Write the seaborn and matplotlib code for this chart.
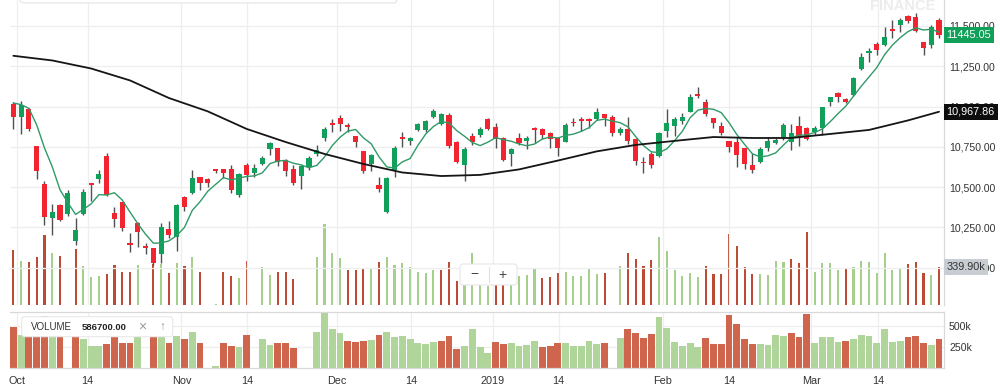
import numpy as np
import pandas as pd
import matplotlib
matplotlib.use("Agg")
import matplotlib.pyplot as plt
import seaborn as sns
from matplotlib.patches import FancyBboxPatch
from matplotlib.transforms import IdentityTransform, blended_transform_factory

# ---------------- data ----------------
open_ = [11016, 10934, 10987, 10756, 10518, 10309, 10391, 10334, 10168, 10332,
         10524, 10549, 10694, 10340, 10406, 10152, 10276, 10137, 10121, 10084,
         10242, 10193, 10441, 10462, 10561, 10551, 10615, 10615, 10611, 10450,
         10636, 10586, 10646, 10737, 10741, 10669, 10615, 10570, 10625, 10706,
         10807, 10896, 10931, 10886, 10819, 10725, 10644, 10512, 10348, 10607,
         10809, 10788, 10855, 10855, 10934, 10892, 10948, 10782, 10640, 10819,
         10824, 10921, 10872, 10803, 10706, 10803, 10787, 10865, 10859, 10834,
         10803, 10782, 10902, 10921, 10920, 10923, 10952, 10938, 10838, 10863,
         10797, 10658, 10706, 10694, 10850, 10880, 10913, 10968, 11078, 11027,
         10931, 10880, 10788, 10782, 10741, 10638, 10656, 10741, 10776, 10813,
         10782, 10880, 10865, 10841, 10865, 11030, 11082, 11045, 11072, 11233,
         11331, 11388, 11382, 11481, 11506, 11562, 11558, 11403, 11382, 11537]
high = [11030, 11035, 10991, 10756, 10540, 10394, 10396, 10483, 10307, 10489,
        10528, 10607, 10710, 10379, 10406, 10218, 10282, 10154, 10121, 10280,
        10290, 10396, 10445, 10607, 10561, 10557, 10615, 10615, 10638, 10586,
        10648, 10644, 10695, 10778, 10741, 10673, 10636, 10636, 10695, 10762,
        10872, 10921, 10948, 10896, 10819, 10725, 10704, 10561, 10565, 10756,
        10840, 10809, 10900, 10917, 10985, 10962, 10962, 10787, 10751, 10838,
        10872, 10927, 10900, 10813, 10741, 10834, 10818, 10872, 10865, 10844,
        10813, 10900, 10927, 10934, 10927, 10989, 10952, 10948, 10872, 10937,
        10803, 10689, 10720, 10844, 10985, 10934, 10958, 11076, 11120, 11045,
        10931, 10906, 10788, 10813, 10741, 10714, 10751, 10809, 10803, 10896,
        10892, 10942, 10872, 10880, 11000, 11061, 11092, 11055, 11186, 11331,
        11362, 11403, 11496, 11537, 11548, 11568, 11579, 11403, 11506, 11548]
low = [10859, 10828, 10850, 10553, 10267, 10201, 10292, 10321, 10141, 10328,
       10412, 10528, 10445, 10253, 10226, 10098, 10127, 10086, 10017, 10028,
       10185, 10106, 10354, 10458, 10483, 10500, 10590, 10555, 10466, 10441,
       10540, 10565, 10638, 10698, 10631, 10569, 10516, 10491, 10607, 10694,
       10787, 10841, 10850, 10844, 10751, 10590, 10600, 10472, 10338, 10565,
       10751, 10762, 10849, 10844, 10929, 10884, 10741, 10652, 10540, 10762,
       10813, 10855, 10741, 10664, 10631, 10762, 10737, 10772, 10797, 10741,
       10696, 10779, 10882, 10850, 10865, 10917, 10880, 10818, 10824, 10768,
       10636, 10586, 10617, 10686, 10813, 10818, 10892, 10965, 11051, 10944,
       10865, 10824, 10720, 10627, 10611, 10590, 10650, 10726, 10768, 10793,
       10731, 10756, 10793, 10824, 10824, 11004, 11030, 11020, 11068, 11227,
       11279, 11320, 11376, 11424, 11465, 11517, 11465, 11320, 11362, 11424]
close = [10934, 11012, 10859, 10602, 10313, 10346, 10298, 10462, 10235, 10472,
         10514, 10584, 10452, 10305, 10245, 10140, 10224, 10125, 10028, 10255,
         10201, 10390, 10379, 10555, 10524, 10528, 10599, 10590, 10483, 10582,
         10578, 10617, 10683, 10772, 10658, 10601, 10528, 10632, 10683, 10731,
         10861, 10884, 10890, 10872, 10782, 10602, 10700, 10487, 10559, 10741,
         10797, 10803, 10894, 10911, 10975, 10954, 10756, 10658, 10735, 10782,
         10858, 10862, 10801, 10669, 10735, 10772, 10807, 10855, 10824, 10797,
         10741, 10888, 10895, 10908, 10912, 10968, 10927, 10834, 10859, 10785,
         10664, 10648, 10640, 10834, 10900, 10921, 10937, 11062, 11068, 10952,
         10896, 10834, 10751, 10700, 10644, 10607, 10736, 10785, 10792, 10886,
         10834, 10813, 10797, 10865, 10996, 11058, 11061, 11030, 11176, 11306,
         11346, 11352, 11430, 11471, 11537, 11533, 11471, 11362, 11496, 11445.05]
volume = [481000, 386000, 383000, 425000, 608000, 454000, 431000, 0, 488000, 345000,
          256000, 262000, 280000, 358000, 298000, 298000, 358000, 0, 365000, 362000,
          287000, 373000, 345000, 420000, 298000, 0, 24000, 298000, 258000, 248000,
          386000, 0, 340000, 268000, 296000, 298000, 238000, 0, 0, 425000,
          700000, 455000, 410000, 315000, 308000, 318000, 324000, 383000, 422000, 358000,
          373000, 335000, 296000, 284000, 308000, 316000, 379000, 222000, 258000, 460000,
          245000, 178000, 300000, 282000, 294000, 262000, 270000, 318000, 243000, 254000,
          290000, 298000, 262000, 262000, 318000, 282000, 290000, 0, 350000, 457000,
          409000, 350000, 397000, 595000, 476000, 310000, 262000, 290000, 250000, 350000,
          282000, 282000, 619000, 516000, 341000, 282000, 282000, 270000, 389000, 377000,
          409000, 369000, 635000, 298000, 369000, 369000, 310000, 318000, 338000, 389000,
          381000, 290000, 457000, 310000, 318000, 362000, 377000, 290000, 270000, 339900]

# long moving average (black), read at every 5th session (last at session 119)
ma_long_idx = [0, 5, 10, 15, 20, 25, 30, 35, 40, 45, 50, 55, 60, 65, 70, 75,
               80, 85, 90, 95, 100, 105, 110, 115, 119]
ma_long_val = [11315, 11286, 11236, 11162, 11053, 10970, 10861, 10780, 10706,
               10644, 10591, 10569, 10576, 10610, 10665, 10722, 10762, 10787,
               10811, 10805, 10805, 10830, 10855, 10914, 10967.86]
# first values of the short (5-session) average, carried from sessions before the window
ma_fast_head = [11022, 11012, 10989, 10886]

tick_pos = [0.48, 9.54, 21.6, 30.0, 41.6, 51.1, 61.6, 70.1, 83.5, 92.0, 102.6, 111.2]
tick_lab = ["Oct", "14", "Nov", "14", "Dec", "14", "2019", "14", "Feb", "14", "Mar", "14"]
price_levels = [10000, 10250, 10500, 10750, 11000, 11250, 11500]
vol_levels = [250000, 500000]
vol_level_labels = ["250k", "500k"]

# ---------------- style ----------------
sns.set_theme(style="white")
plt.rcParams['font.family'] = ['Liberation Sans', 'DejaVu Sans']

W, H = 1000, 389
fig = plt.figure(figsize=(W / 100, H / 100), dpi=100)
fig.patch.set_facecolor("white")

def fx(x):
    return x / W

def fy(y):
    return 1 - y / H

LEFT, RIGHT = 10, 943.5
ax = fig.add_axes([fx(LEFT), fy(305), (RIGHT - LEFT) / W, 305 / H])
axb = fig.add_axes([fx(LEFT), fy(367.7), (RIGHT - LEFT) / W, (367.7 - 311.5) / H])

n = len(close)
x = np.arange(n)
O = np.array(open_, float); Hh = np.array(high, float)
L = np.array(low, float); C = np.array(close, float)
V = np.array(volume, float)

up = C >= O
RED, GREEN = "#f2242f", "#10a05a"
cand_col = np.where(up, GREEN, RED)
vol_up = np.r_[False, C[1:] >= C[:-1]]
vcol_over = np.where(vol_up, "#a6cf8c", "#bd4a33")
vcol_bot = np.where(vol_up, "#afd59b", "#cf654d")

xlim = (-0.43, 119.57)
GRID = "#eeeeee"

# volume overlay in the price panel
axv = ax.twinx()
axv.set_ylim(14500, 2607000)
axv.bar(x, V, width=0.27, color=vcol_over, linewidth=0, zorder=1)
axv.set_yticks([])
for s in axv.spines.values():
    s.set_visible(False)
ax.set_zorder(axv.get_zorder() + 1)
ax.patch.set_visible(False)

# grid
for lv in price_levels:
    ax.axhline(lv, color=GRID, lw=0.9, zorder=0)
for tp in tick_pos:
    ax.axvline(tp, color=GRID, lw=0.9, zorder=0)

# candles
ax.vlines(x, L, Hh, color="#505050", lw=1.0, zorder=3)
body_h = np.maximum(np.abs(C - O), 9)
ax.bar(x, body_h, bottom=np.minimum(O, C), width=0.66, color=cand_col,
       linewidth=0, zorder=4)

# moving averages
ma_fast = np.r_[ma_fast_head, pd.Series(C).rolling(5).mean().to_numpy()[4:]]
sns.lineplot(x=x, y=ma_fast, ax=ax, color="#2f9a68", lw=1.0, zorder=5)
sns.lineplot(x=ma_long_idx, y=ma_long_val, ax=ax, color="#151515", lw=1.3, zorder=5)

ax.set_xlim(*xlim)
ax.set_ylim(9769, 11661)
ax.set_xticks([])
ax.yaxis.tick_right()
ax.set_yticks(price_levels)
ax.set_yticklabels([f"{v:,.2f}" for v in price_levels])
ax.tick_params(axis="y", length=0, pad=4, labelsize=7.6, labelcolor="#333333")
ax.set_xlabel(""); ax.set_ylabel("")
for k, s in ax.spines.items():
    s.set_visible(k == "right")
ax.spines["right"].set_color("#d9d9d9")
ax.spines["right"].set_linewidth(0.9)

# bottom volume panel
for lv in vol_levels:
    axb.axhline(lv, color=GRID, lw=0.9, zorder=0)
for tp in tick_pos:
    axb.axvline(tp, color=GRID, lw=0.9, zorder=0)
axb.bar(x, V, width=0.88, color=vcol_bot, linewidth=0, zorder=2)
axb.set_xlim(*xlim)
axb.set_ylim(0, 666000)
axb.yaxis.tick_right()
axb.set_yticks(vol_levels)
axb.set_yticklabels(vol_level_labels)
axb.tick_params(axis="y", length=0, pad=4, labelsize=7.6, labelcolor="#333333")
axb.set_xticks(tick_pos)
axb.set_xticklabels(tick_lab)
axb.tick_params(axis="x", length=0, pad=6, labelsize=7.8, labelcolor="#333333")
for k, s in axb.spines.items():
    s.set_visible(k != "left")
    s.set_color("#d9d9d9")
    s.set_linewidth(0.9)
axb.patch.set_visible(False)

# last-value labels on the right axis
def tag(text, yval, ycoords, fc, tc):
    ax.annotate(text, xy=(1.0, yval),
                xycoords=blended_transform_factory(ax.transAxes, ycoords),
                xytext=(2.2, 0), textcoords="offset points", ha="left", va="center",
                fontsize=7.8, color=tc, zorder=20, annotation_clip=False,
                bbox=dict(boxstyle="square,pad=0.28", fc=fc, ec="none"))

tag(f"{close[-1]:.2f}", close[-1], ax.transData, "#10a05a", "white")
tag(f"{ma_long_val[-1]:,.2f}", ma_long_val[-1], ax.transData, "#0d0d0d", "white")
tag(f"{volume[-1] / 1000:.2f}k", volume[-1], axv.transData, "#c8ccd3", "#333333")

# decorations: top tooltip edge, zoom control, legend box, watermark
top_box = FancyBboxPatch((20, H - 3), 377, 20, boxstyle="round,pad=0,rounding_size=4",
                         fc="white", ec="#e4e4e4", lw=0.8, transform=IdentityTransform(),
                         zorder=30)
fig.add_artist(top_box)
fig.text(fx(870), fy(9.5), "FINANCE", fontsize=10.5, fontweight="bold",
         color="#ececec", ha="left", va="baseline", zorder=1)

ctrl = FancyBboxPatch((460, H - 285), 57, 21, boxstyle="round,pad=0,rounding_size=3",
                      fc="white", ec="#e6e6e6", lw=0.8, transform=IdentityTransform(),
                      zorder=30)
fig.add_artist(ctrl)
fig.text(fx(474), fy(274.5), "\u2212", fontsize=10, color="#444444",
         ha="center", va="center", zorder=31)
fig.text(fx(502), fy(274.5), "+", fontsize=10, color="#444444",
         ha="center", va="center", zorder=31)
fig.add_artist(plt.Line2D([fx(488.5), fx(488.5)], [fy(267), fy(282)],
                          color="#e0e0e0", lw=0.8, transform=fig.transFigure, zorder=31))

leg = FancyBboxPatch((21.7, H - 336.7), 151, 20, boxstyle="round,pad=0,rounding_size=3",
                     fc="white", ec="#e8e8e8", lw=0.8, transform=IdentityTransform(),
                     zorder=30)
fig.add_artist(leg)
fig.text(fx(30.5), fy(327), "VOLUME", fontsize=7.0, color="#333333",
         ha="left", va="center", zorder=31)
fig.text(fx(82), fy(327.5), "586700.00", fontsize=6.8, fontweight="bold",
         color="#222222", ha="left", va="center", zorder=31)
fig.text(fx(142), fy(327), "\u00d7", fontsize=10, color="#9a9a9a",
         ha="center", va="center", zorder=31)
fig.text(fx(162), fy(327), "\u2191", fontsize=8.5, color="#9a9a9a",
         ha="center", va="center", zorder=31)

fig.savefig("out.png", dpi=100, facecolor="white")
